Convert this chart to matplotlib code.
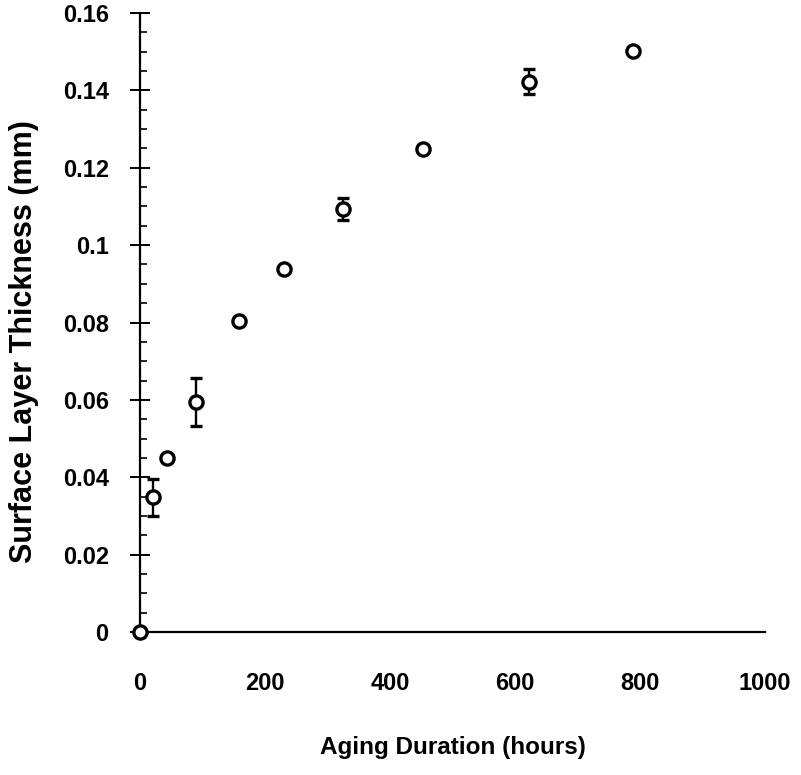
import numpy as np
import matplotlib.pyplot as plt
from matplotlib.ticker import MultipleLocator

#### Data
hours = [0, 21, 43, 90, 159, 231, 325, 453, 622, 788]
thickness = [0.0, 0.0348, 0.0449, 0.0594, 0.0803, 0.0937, 0.1094, 0.1249, 0.1422, 0.1502]
err = [0.0, 0.0048, 0.0, 0.0062, 0.0, 0.0, 0.0028, 0.0, 0.0032, 0.0]

x_ticks = [0, 200, 400, 600, 800, 1000]
y_ticks = [0, 0.02, 0.04, 0.06, 0.08, 0.1, 0.12, 0.14, 0.16]
y_labels = ['0', '0.02', '0.04', '0.06', '0.08', '0.1', '0.12', '0.14', '0.16']

plt.rcParams['font.family'] = ['Liberation Sans', 'DejaVu Sans']
plt.rcParams['font.weight'] = 'bold'

#### Sets up the figure
fig = plt.figure(figsize=(8.01, 7.75), dpi=100, facecolor='white')
ax = fig.add_axes([140 / 801, 1 - 632 / 775, (765 - 140) / 801, (632 - 13) / 775])
ax.spines['top'].set_visible(False)
ax.spines['right'].set_visible(False)
ax.spines['left'].set_linewidth(1.6)
ax.spines['bottom'].set_linewidth(1.6)

#### Points with error bars
ax.errorbar(hours, thickness, yerr=err, fmt='o', color='black', mfc='white',
            mec='black', ms=9.5, mew=2.4, elinewidth=1.7, capsize=4.5, capthick=2.2,
            clip_on=False, zorder=3)

ax.set_xlim(0, 1000)
ax.set_ylim(0, 0.16)

ax.set_xticks(x_ticks)
ax.set_xticklabels([str(t) for t in x_ticks], fontsize=17, fontweight='bold')
ax.tick_params(axis='x', length=0, pad=29)

ax.set_yticks(y_ticks)
ax.set_yticklabels(y_labels, fontsize=17, fontweight='bold')
ax.yaxis.set_minor_locator(MultipleLocator(0.005))
ax.tick_params(axis='y', which='major', direction='inout', length=15, width=1.4, pad=15)
ax.tick_params(axis='y', which='minor', direction='in', length=5, width=1.2)

#### Axis labels
ax.set_xlabel('Aging Duration (hours)', fontsize=17.5, fontweight='bold')
ax.set_ylabel('Surface Layer Thickness (mm)', fontsize=22, fontweight='bold')
ax.xaxis.set_label_coords(0.5, -0.168)
ax.yaxis.set_label_coords(-0.162, 0.47)

plt.savefig('out.png', dpi=100, facecolor='white')
